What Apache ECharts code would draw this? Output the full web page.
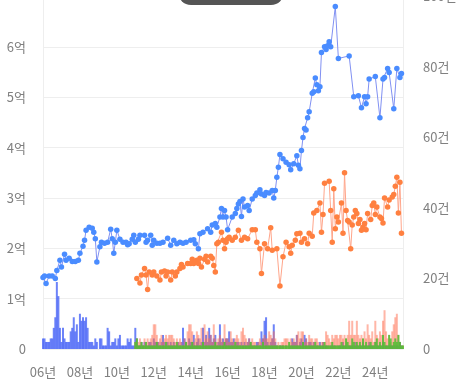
<!DOCTYPE html>
<html><head><meta charset="utf-8">
<script src="https://cdn.jsdelivr.net/npm/echarts@6/dist/echarts.min.js"></script>
<style>html,body{margin:0;padding:0;background:#fff;overflow:hidden}#c{position:absolute;left:0;top:-10px;width:464px;height:398px}</style>
</head><body><div id="c"></div>
<script>
// x range: monthly categories
const firstMonth = '2006-01';
const lastMonth = '2025-07';
const yearLabelSuffix = '년';
const leftAxisMax = 7, leftAxisStep = 1, leftUnit = '억';
const rightAxisMax = 100, rightAxisStep = 20, rightUnit = '건';

// 매매 가격 (억)
const salePrice = [
 ['2006-01',1.42],['2006-02',1.45],['2006-03',1.30],['2006-05',1.45],['2006-07',1.45],['2006-09',1.40],['2006-10',1.56],['2006-12',1.76],
 ['2007-01',1.63],['2007-03',1.88],['2007-04',1.76],['2007-06',1.80],['2007-08',1.74],['2007-10',1.74],['2007-12',1.76],
 ['2008-01',1.90],['2008-03',2.04],['2008-04',2.16],['2008-05',2.36],['2008-07',2.42],['2008-09',2.40],['2008-10',2.32],['2008-11',2.19],['2008-12',1.73],
 ['2009-02',2.03],['2009-03',2.12],['2009-05',2.10],['2009-07',2.12],['2009-09',2.38],['2009-10',2.19],['2009-11',1.90],['2009-12',2.12],
 ['2010-01',2.36],['2010-03',2.18],['2010-05',2.12],['2010-07',2.12],['2010-08',2.07],['2010-09',2.09],['2010-11',2.18],['2010-12',2.26],
 ['2011-01',2.12],['2011-03',2.18],['2011-04',2.26],['2011-07',2.26],['2011-08',2.12],['2011-09',2.16],['2011-11',2.26],['2011-12',2.06],
 ['2012-01',2.16],['2012-03',2.10],['2012-05',2.10],['2012-07',2.12],['2012-10',2.20],['2012-12',2.06],
 ['2013-02',2.16],['2013-04',2.09],['2013-06',2.12],['2013-08',2.10],['2013-10',2.12],
 ['2014-01',2.16],['2014-03',2.17],['2014-04',2.09],['2014-06',1.99],['2014-07',2.29],['2014-09',2.32],['2014-12',2.39],
 ['2015-02',2.32],['2015-03',2.46],['2015-05',2.49],['2015-06',2.42],['2015-08',2.62],['2015-09',2.79],['2015-10',2.62],['2015-11',2.75],['2015-12',2.62],
 ['2016-01',2.37],['2016-04',2.62],['2016-06',2.69],['2016-07',2.79],['2016-08',2.88],['2016-09',2.93],['2016-10',2.63],['2016-11',2.98],['2016-12',2.82],
 ['2017-02',2.85],['2017-03',2.75],['2017-05',2.98],['2017-07',3.05],['2017-08',3.10],['2017-10',3.16],['2017-11',3.08],
 ['2018-01',3.05],['2018-02',3.11],['2018-04',3.10],['2018-06',3.15],['2018-07',3.00],['2018-08',3.15],['2018-09',3.41],['2018-10',3.61],['2018-11',3.86],
 ['2019-01',3.78],['2019-03',3.71],['2019-05',3.66],['2019-06',3.56],['2019-08',3.68],['2019-10',3.84],['2019-11',3.65],['2019-12',3.58],
 ['2020-01',3.94],['2020-02',4.20],['2020-03',4.38],['2020-04',4.35],['2020-05',4.59],['2020-06',4.71],['2020-08',5.08],['2020-09',5.11],['2020-10',5.38],['2020-11',5.25],['2020-12',5.13],
 ['2021-01',5.21],['2021-02',5.89],['2021-04',6.00],['2021-05',5.95],['2021-06',6.02],['2021-07',6.10],['2021-08',6.00],['2021-11',6.80],
 ['2022-01',5.77],['2022-08',5.82],['2022-11',5.01],
 ['2023-02',5.03],['2023-04',4.79],['2023-06',5.01],['2023-07',4.87],['2023-08',5.01],['2023-09',5.36],
 ['2024-01',5.41],['2024-04',4.59],['2024-06',5.36],['2024-07',5.39],['2024-09',5.57],['2024-10',5.49],
 ['2025-01',4.77],['2025-03',5.57],['2025-05',5.39],['2025-06',5.47]
];

// 전세 가격 (억)
const jeonsePrice = [
 ['2011-02',1.40],['2011-04',1.31],['2011-05',1.47],['2011-07',1.60],['2011-08',1.47],['2011-09',1.18],['2011-10',1.53],['2011-12',1.47],
 ['2012-01',1.53],['2012-03',1.45],['2012-05',1.37],['2012-06',1.53],['2012-08',1.55],['2012-09',1.45],['2012-10',1.53],['2012-12',1.37],
 ['2013-01',1.53],['2013-03',1.45],['2013-04',1.53],['2013-06',1.60],['2013-07',1.68],['2013-08',1.63],['2013-11',1.70],
 ['2014-01',1.70],['2014-02',1.78],['2014-03',1.70],['2014-05',1.76],['2014-06',1.70],['2014-07',1.80],['2014-08',1.63],['2014-10',1.78],['2014-11',1.84],['2014-12',1.73],
 ['2015-02',1.84],['2015-03',1.80],['2015-04',1.66],['2015-05',1.53],['2015-06',2.09],['2015-07',2.12],['2015-09',2.32],['2015-10',2.16],['2015-11',1.99],['2015-12',2.12],
 ['2016-01',2.19],['2016-02',2.22],['2016-04',2.16],['2016-06',2.22],['2016-08',2.36],['2016-10',2.16],['2016-12',2.22],
 ['2017-02',2.19],['2017-05',2.37],['2017-07',2.37],['2017-08',2.12],['2017-10',1.99],['2017-11',1.50],
 ['2018-01',2.09],['2018-03',1.99],['2018-05',2.41],['2018-06',1.96],['2018-09',1.99],['2018-11',1.25],
 ['2019-01',1.83],['2019-03',2.12],['2019-05',2.03],['2019-06',1.90],['2019-07',2.06],['2019-09',2.16],['2019-10',2.29],['2019-12',2.30],
 ['2020-01',2.12],['2020-03',2.19],['2020-05',2.09],['2020-06',2.30],['2020-08',2.24],['2020-09',2.70],['2020-11',2.75],
 ['2021-01',2.90],['2021-02',2.32],['2021-03',2.67],['2021-04',3.29],['2021-07',3.33],['2021-08',2.75],['2021-09',2.12],['2021-10',3.18],['2021-11',2.39],['2021-12',2.62],
 ['2022-01',2.52],['2022-03',2.90],['2022-04',2.30],['2022-05',3.50],['2022-06',2.75],['2022-07',2.55],['2022-08',2.52],['2022-09',1.99],['2022-10',2.46],['2022-11',2.62],['2022-12',2.75],
 ['2023-01',2.69],['2023-02',2.49],['2023-03',2.57],['2023-04',2.36],['2023-05',2.42],['2023-06',2.49],['2023-07',2.37],['2023-08',2.69],['2023-10',2.57],['2023-11',2.85],['2023-12',2.90],
 ['2024-01',2.67],['2024-02',2.82],['2024-04',2.62],['2024-05',2.59],['2024-06',2.50],['2024-07',3.00],['2024-09',2.82],['2024-10',2.96],['2024-12',3.02],
 ['2025-01',3.07],['2025-02',3.23],['2025-03',3.41],['2025-04',2.70],['2025-05',3.31],['2025-06',2.30]
];

// 매매 건수 (2006-01 부터 월별)
const saleCount = [
 3,3,2,2,2,3,3,6,9,19,15,6,
 2,6,3,2,2,2,5,6,9,5,7,2,
 10,8,9,8,9,6,2,2,2,1,3,2,
 0,3,3,1,1,1,6,5,1,2,2,3,
 1,3,4,1,1,1,1,3,2,3,1,1,
 6,3,1,1,2,1,2,1,1,2,2,1,
 3,2,2,2,1,2,4,2,1,2,1,2,
 1,2,1,1,2,1,2,6,3,2,1,3,
 2,2,4,1,2,3,1,2,6,2,4,2,
 6,4,2,3,4,1,2,7,2,3,2,3,
 3,5,2,2,3,1,2,2,1,2,1,2,
 1,2,3,2,1,1,1,2,2,1,5,3,
 8,9,2,1,2,3,7,2,1,0,1,1,
 1,0,1,0,1,1,3,2,2,4,1,2,
 3,2,4,3,1,2,2,1,2,1,1,1,
 2,1,2,1,1,1,0,1,1,1,1,0,
 1,1,1,2,1,1,1,1,1,1,1,2,
 1,1,1,1,2,1,1,1,2,1,1,1,
 2,1,1,1,1,2,1,1,1,1,1,1,
 1,1,1,1,2,1,0
];
// 전세 / 월세 건수 (2011-01 부터 월별)
const rentCountStart = '2011-01';
const jeonseCount = [
 2,3,2,3,2,1,3,2,3,2,3,4,
 7,7,4,2,3,4,2,3,4,3,4,4,
 4,3,2,3,2,3,2,1,3,2,5,7,
 7,5,2,3,5,4,3,6,2,7,3,5,
 3,4,2,7,3,2,3,4,3,2,7,3,
 3,2,5,3,2,3,4,3,2,5,6,4,
 3,2,3,2,3,2,2,1,2,3,2,3,
 4,3,3,5,4,3,5,3,1,2,1,2,
 2,3,3,3,2,3,2,3,2,4,5,3,
 5,5,2,3,2,4,3,3,2,3,3,2,
 1,2,2,2,5,4,3,2,4,3,4,4,
 3,4,4,3,4,3,4,8,4,8,4,4,
 8,4,3,4,3,5,3,7,4,3,5,2,
 8,4,3,5,4,8,11,5,3,4,2,5,
 7,9,10,4,2,1,1
];
const wolseCount = [
 2,3,1,1,2,1,1,2,1,1,1,1,
 1,1,2,1,1,1,1,1,2,1,1,1,
 1,1,1,2,1,1,1,1,1,2,1,1,
 1,2,1,1,1,1,1,1,2,1,1,1,
 1,1,1,1,2,1,1,1,1,1,2,1,
 1,1,1,1,1,2,1,1,1,1,1,1,
 1,1,1,2,1,1,1,1,1,1,1,2,
 1,1,1,1,1,1,1,1,1,1,1,1,
 1,1,1,1,2,1,1,1,1,1,1,1,
 1,2,1,1,1,1,1,1,1,2,1,1,
 1,1,1,2,1,1,1,1,2,1,1,1,
 1,1,2,1,1,3,2,1,1,3,2,1,
 2,1,2,1,3,1,2,1,1,2,1,1,
 2,3,1,2,1,4,2,1,1,4,3,1,
 2,3,2,4,2,1,1
];

// ---- build ----
function mIndex(s){const [y,m]=s.split('-').map(Number);const [y0,m0]=firstMonth.split('-').map(Number);return (y-y0)*12+(m-m0);}
const nMonths = mIndex(lastMonth)+1;
const months = [];
for(let i=0;i<nMonths;i++){const [y0]=firstMonth.split('-').map(Number);const y=y0+Math.floor(i/12),m=i%12+1;months.push(y+'-'+String(m).padStart(2,'0'));}
const rentOffset = mIndex(rentCountStart);
const padRent = arr => months.map((_,i)=> (i>=rentOffset && i-rentOffset<arr.length) ? arr[i-rentOffset] : null);

const font = 'Noto Sans CJK KR';
const chart = echarts.init(document.getElementById('c'), null, {renderer:'canvas'});
chart.setOption({
  animation:false,
  grid:{left:43,right:61,top:6,bottom:39,containLabel:false},
  xAxis:{type:'category',data:months,boundaryGap:false,
    axisLine:{show:true,lineStyle:{color:'#eeeeee'}},axisTick:{show:false},
    axisLabel:{color:'#808080',fontSize:13,fontFamily:font,margin:17,
      interval:(i,v)=>{const [y,m]=v.split('-').map(Number);return m===1 && y%2===0;},
      formatter:v=>v.slice(2,4)+yearLabelSuffix}},
  yAxis:[
    {type:'value',min:0,max:leftAxisMax,interval:leftAxisStep,position:'left',
     axisLine:{show:true,lineStyle:{color:'#eeeeee'}},axisTick:{show:false},
     splitLine:{lineStyle:{color:'#eeeeee'}},
     axisLabel:{color:'#808080',fontSize:13,fontFamily:font,margin:17,
       formatter:v=> v===0?'0':(v===leftAxisMax?'':v+leftUnit)}},
    {type:'value',min:0,max:rightAxisMax,interval:rightAxisStep,position:'right',
     axisLine:{show:true,lineStyle:{color:'#eeeeee'}},axisTick:{show:false},splitLine:{show:false},
     axisLabel:{color:'#808080',fontSize:13,fontFamily:font,margin:20,
       formatter:v=> v===0?'0':v+rightUnit}}
  ],
  graphic:[{type:'rect',shape:{x:178,y:-12,width:106,height:27,r:13},style:{fill:'#555555'},z:100}],
  series:[
    {name:'매매건수',type:'bar',yAxisIndex:1,data:saleCount,barWidth:2,barGap:'-100%',
     itemStyle:{color:'rgba(60,90,245,0.75)'},z:1},
    {name:'전세건수',type:'bar',yAxisIndex:1,data:padRent(jeonseCount),barWidth:2,barGap:'-100%',
     itemStyle:{color:'rgba(255,110,80,0.5)'},z:2},
    {name:'월세건수',type:'bar',yAxisIndex:1,data:padRent(wolseCount),barWidth:2,barGap:'-100%',
     itemStyle:{color:'rgba(80,190,50,0.85)'},z:3},
    {name:'전세',type:'line',yAxisIndex:0,data:jeonsePrice.map(([m,v])=>[mIndex(m),v]),
     symbol:'circle',symbolSize:5.5,showSymbol:true,showAllSymbol:true,
     lineStyle:{color:'#ffa58a',width:1},itemStyle:{color:'#ff8040'},z:4},
    {name:'매매',type:'line',yAxisIndex:0,data:salePrice.map(([m,v])=>[mIndex(m),v]),
     symbol:'circle',symbolSize:5.5,showSymbol:true,showAllSymbol:true,
     lineStyle:{color:'#8090f2',width:1},itemStyle:{color:'#4a8cff'},z:5}
  ]
});
</script></body></html>
